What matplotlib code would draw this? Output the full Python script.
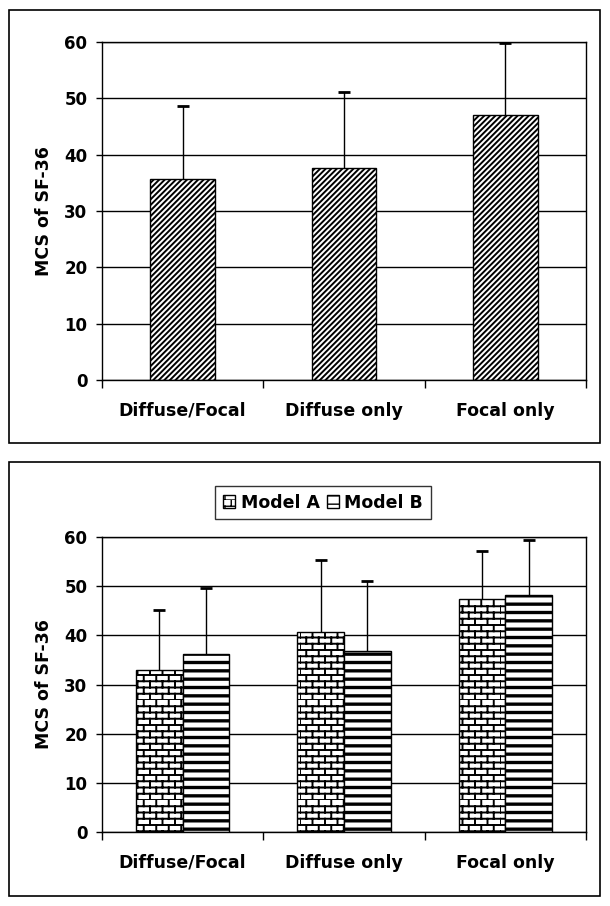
import warnings
warnings.filterwarnings("ignore")
import numpy as np
import matplotlib
matplotlib.use("Agg")
import matplotlib.pyplot as plt
import matplotlib.hatch as mhatch
from matplotlib.path import Path
from matplotlib.patches import Rectangle

# ---------------- data ----------------
categories = ["Diffuse/Focal", "Diffuse only", "Focal only"]
top_means = [35.7, 37.6, 47.1]
top_upper = [48.7, 51.2, 59.8]

series_names = ["Model A", "Model B"]
modelA_means = [33.0, 40.6, 47.3]
modelA_upper = [45.1, 55.3, 57.2]
modelB_means = [36.2, 36.8, 48.3]
modelB_upper = [49.6, 51.1, 59.3]

y_ticks = [0, 10, 20, 30, 40, 50, 60]
y_label = "MCS of SF-36"


# ------------- brick hatch pattern -------------
class BrickHatch(mhatch.HatchPatternBase):
    def __init__(self, hatch, density):
        k = hatch.count('b')
        self.rows = 16 * k
        self.cols = 8 * k
        self.num_vertices = (self.rows + self.rows * self.cols) * 2 if k else 0

    def set_vertices_and_codes(self, vertices, codes):
        v = []
        for i in range(self.rows):
            y0 = i / self.rows
            y1 = (i + 1) / self.rows
            v.append((0.0, y0)); v.append((1.0, y0))
            off = 0.5 if i % 2 else 0.0
            for j in range(self.cols):
                xx = (j + off) / self.cols
                v.append((xx, y0)); v.append((xx, y1))
        vertices[:] = np.array(v)
        codes[0::2] = Path.MOVETO
        codes[1::2] = Path.LINETO


if BrickHatch not in mhatch._hatch_types:
    mhatch._hatch_types.append(BrickHatch)

plt.rcParams['font.family'] = ['DejaVu Sans']
plt.rcParams['font.weight'] = 'bold'
plt.rcParams['hatch.color'] = 'black'

W, H = 610, 906
fig = plt.figure(figsize=(W / 100, H / 100), dpi=100)

# panel borders
for (x0, y0, x1, y1) in [(9, 10, 600, 443), (9, 462, 600, 896)]:
    fig.patches.append(Rectangle((x0 / W, 1 - y1 / H), (x1 - x0) / W, (y1 - y0) / H,
                                 transform=fig.transFigure, fill=False,
                                 edgecolor='black', linewidth=1.2, zorder=0))


def style_axes(ax):
    xs = np.arange(1, len(categories) + 1)
    ax.set_xlim(0.5, len(categories) + 0.5)
    ax.set_ylim(0, 60)
    ax.set_yticks(y_ticks)
    ax.set_yticklabels([str(t) for t in y_ticks], fontsize=12, fontweight='bold')
    ax.set_xticks(xs)
    ax.set_xticklabels(categories, fontsize=12.5, fontweight='bold')
    ax.set_xticks(np.arange(0.5, len(categories) + 1, 1.0), minor=True)
    ax.tick_params(axis='x', which='major', length=0, pad=15.5)
    ax.tick_params(axis='x', which='minor', length=5.5, width=1.0, direction='out')
    ax.tick_params(axis='y', which='major', length=4.5, width=1.0, direction='out', pad=6)
    ax.yaxis.grid(True, color='black', linewidth=1.0)
    ax.set_axisbelow(True)
    for s in ax.spines.values():
        s.set_linewidth(1.0)
        s.set_color('black')


def upper_errorbar(ax, xs, means, uppers):
    means = np.asarray(means, float)
    uppers = np.asarray(uppers, float)
    _, caps, _ = ax.errorbar(xs, means, yerr=[np.zeros(len(xs)), uppers - means],
                             fmt='none', ecolor='black', elinewidth=1.0,
                             capsize=4.5, capthick=2.0, zorder=3)
    for c in caps:
        if np.allclose(c.get_ydata(), means):
            c.set_visible(False)


x = np.arange(1, len(categories) + 1)

# ---------------- top panel ----------------
ax1 = fig.add_axes([102 / W, 1 - 380 / H, 484 / W, 338 / H])
with plt.rc_context({'hatch.linewidth': 1.4}):
    bars = ax1.bar(x, top_means, width=0.40, color='white', edgecolor='black',
                   linewidth=1.0, hatch='//////', zorder=2)
upper_errorbar(ax1, x, top_means, top_upper)
style_axes(ax1)
fig.text(44 / W, 1 - 211 / H, y_label, rotation=90, ha='center', va='center',
         fontsize=12.5, fontweight='bold')

# ---------------- bottom panel ----------------
ax2 = fig.add_axes([102 / W, 1 - 832 / H, 484 / W, 295 / H])
bw = 0.29
with plt.rc_context({'hatch.linewidth': 1.4}):
    bA = ax2.bar(x - bw / 2, modelA_means, width=bw, color='white', edgecolor='black',
                 linewidth=1.0, hatch='b', zorder=2, label=series_names[0])
with plt.rc_context({'hatch.linewidth': 2.4}):
    bB = ax2.bar(x + bw / 2, modelB_means, width=bw, color='white', edgecolor='black',
                 linewidth=1.0, hatch='--', zorder=2, label=series_names[1])
upper_errorbar(ax2, x - bw / 2, modelA_means, modelA_upper)
upper_errorbar(ax2, x + bw / 2, modelB_means, modelB_upper)
style_axes(ax2)
fig.text(44 / W, 1 - 684 / H, y_label, rotation=90, ha='center', va='center',
         fontsize=12.5, fontweight='bold')

leg = fig.legend(handles=[bA, bB], labels=series_names, loc='center',
                 bbox_to_anchor=(323 / W, 1 - 502.5 / H), ncol=2, fontsize=12.5,
                 frameon=True, fancybox=False, shadow=False, handlelength=0.7,
                 handleheight=0.7, handletextpad=0.3, columnspacing=0.4,
                 borderpad=0.45, borderaxespad=0)
leg.get_frame().set_edgecolor('black')
leg.get_frame().set_linewidth(1.0)
for t in leg.get_texts():
    t.set_fontweight('bold')

fig.savefig("out.png", dpi=100)
